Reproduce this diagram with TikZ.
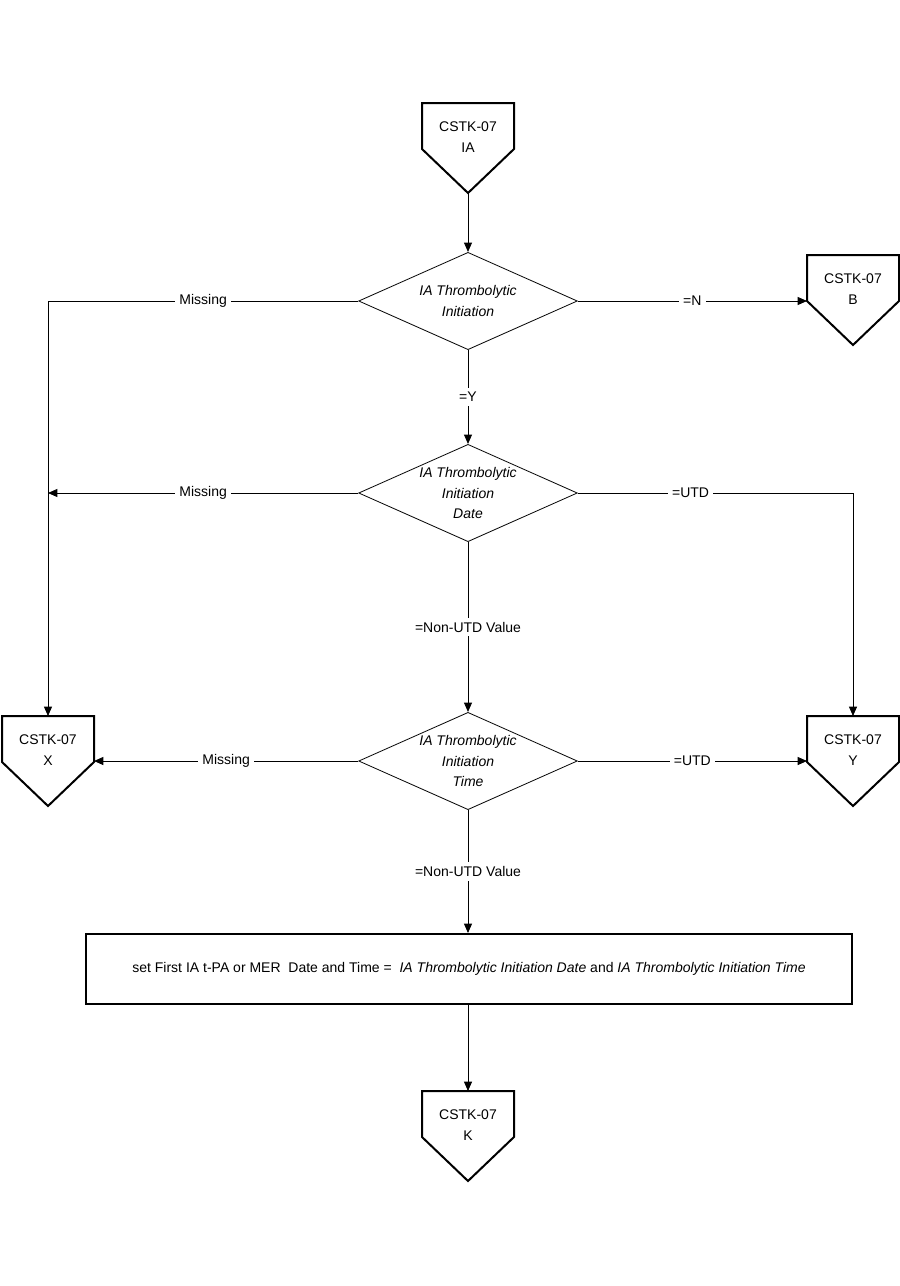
\documentclass[tikz,border=0pt]{standalone}
\usepackage{fontspec}
\setmainfont{Liberation Sans}
\usepackage{tikz}
\usetikzlibrary{shapes.geometric, arrows.meta, positioning}
\newcommand{\chartfont}{\fontsize{10.5}{15.4}\selectfont}
\tikzstyle{arrow}    = [line width=0.6pt, -{Triangle[length=7pt, width=6pt]}]
\tikzstyle{decision} = [diamond, draw, line width=0.6pt, shape aspect=2.25, minimum width=164pt, minimum height=73pt, inner sep=0pt, font=\chartfont\itshape]
\tikzstyle{offpage}  = [inner sep=0pt]
\tikzstyle{process}  = [rectangle, draw, line width=1.5pt, minimum width=574.5pt, minimum height=52.5pt]
\tikzstyle{lbl}      = [fill=white, inner sep=3pt]
\tikzset{every node/.style={align=center, font=\chartfont}}

\begin{document}
\begin{tikzpicture}[x=0.75pt, y=-0.75pt]
    \useasboundingbox (0,0) rectangle (900,1286);

    % off-page connectors
    \node (ia) at (468, 137)  [offpage] {CSTK-07\\IA};
    \node (b)  at (853, 289)  [offpage] {CSTK-07\\B};
    \node (x)  at (48, 750)   [offpage] {CSTK-07\\X};
    \node (y)  at (853, 750)  [offpage] {CSTK-07\\Y};
    \node (k)  at (468, 1125) [offpage] {CSTK-07\\K};
    \foreach \n in {ia, b, x, y, k} {
        \draw [line width=1.5pt] ([shift={(-34.5pt,25.5pt)}]\n.center) -- ++(69pt,0)
              -- ++(0,-34.5pt) -- ++(-34.5pt,-33pt) -- ++(-34.5pt,33pt) -- cycle;
        \coordinate (\n-top)   at ([yshift=25.5pt]\n.center);
        \coordinate (\n-tip)   at ([yshift=-42pt]\n.center);
        \coordinate (\n-left)  at ([shift={(-34.5pt,-9pt)}]\n.center);
        \coordinate (\n-right) at ([shift={(34.5pt,-9pt)}]\n.center);
    }

    % decisions
    \node (d1) at (468, 301) [decision] {IA Thrombolytic\\Initiation};
    \node (d2) at (468, 493) [decision] {IA Thrombolytic\\Initiation\\Date};
    \node (d3) at (468, 761) [decision] {IA Thrombolytic\\Initiation\\Time};
    \node (set) at (469, 969) [process]
          {set First IA t-PA or MER\ \ Date and Time =\ \ \textit{IA Thrombolytic Initiation Date} and \textit{IA Thrombolytic Initiation Time}};

    \draw [arrow] (ia-tip) -- (d1.north);
    \draw [arrow] (d1.west) -- node[lbl] {Missing} (d1.west -| x-top) -- (x-top);
    \draw [arrow] (d1.east) -- node[lbl] {=N} (d1.east -| b-left);
    \draw [arrow] (d1.south) -- node[lbl] {=Y} (d2.north);
    \draw [arrow] (d2.west) -- node[lbl] {Missing} (d2.west -| x-top);
    \draw [arrow] (d2.east) -- node[lbl, pos=0.41] {=UTD} (d2.east -| y-top) -- (y-top);
    \draw [arrow] (d2.south) -- node[lbl] {=Non-UTD Value} (d3.north);
    \draw [arrow] (d3.west) -- node[lbl] {Missing} (d3.west -| x-right);
    \draw [arrow] (d3.east) -- node[lbl] {=UTD} (d3.east -| y-left);
    \draw [arrow] (d3.south) -- node[lbl] {=Non-UTD Value} (set.north -| d3.south);
    \draw [arrow] (set.south -| k-top) -- (k-top);
\end{tikzpicture}
\end{document}
